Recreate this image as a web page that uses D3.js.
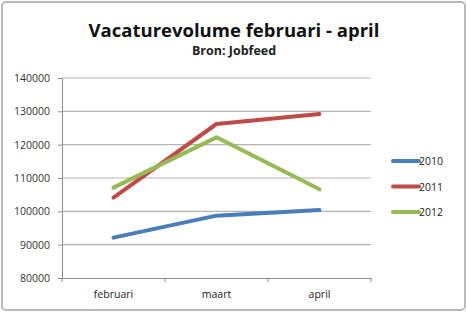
<!DOCTYPE html>
<html>
<head>
<meta charset="utf-8">
<script src="https://cdn.jsdelivr.net/npm/d3@7"></script>
<style>
  body { margin: 0; background: #fff; }
  text { font-family: "Open Sans", "Noto Sans", sans-serif; }
</style>
</head>
<body>
<div id="chart"></div>
<script>
// data
var months = ["februari", "maart", "april"];
var years = ["2010", "2011", "2012"];
var values2010 = [92100, 98700, 100400];
var values2011 = [104100, 126200, 129200];
var values2012 = [107100, 122200, 106600];
var yTicks = [80000, 90000, 100000, 110000, 120000, 130000, 140000];
var colors = ["#4a7ebb", "#be4b48", "#98b954"];

var svgWidth = 467;
var svgHeight = 312;
var margin = { top: 78, right: 96, bottom: 34, left: 62 };
var width = svgWidth - margin.left - margin.right;
var height = svgHeight - margin.top - margin.bottom;

var series = [values2010, values2011, values2012].map(function(vals, i) {
  return { name: years[i], color: colors[i], values: vals };
});

var svg = d3.select("#chart").append("svg")
  .attr("width", svgWidth)
  .attr("height", svgHeight);

// frame
svg.append("rect")
  .attr("x", 2).attr("y", 2)
  .attr("width", svgWidth - 4).attr("height", svgHeight - 4)
  .attr("rx", 4)
  .attr("fill", "#fff")
  .attr("stroke", "#b8b8b8")
  .attr("stroke-width", 2);

// titles
svg.append("text")
  .attr("x", 234).attr("y", 37)
  .attr("text-anchor", "middle")
  .attr("font-size", "18.5px")
  .attr("font-weight", "bold")
  .attr("fill", "#111")
  .text("Vacaturevolume februari - april");

svg.append("text")
  .attr("x", 234).attr("y", 55)
  .attr("text-anchor", "middle")
  .attr("font-size", "12.5px")
  .attr("font-weight", "bold")
  .attr("fill", "#222")
  .text("Bron: Jobfeed");

var chartGroup = svg.append("g")
  .attr("transform", `translate(${margin.left}, ${margin.top})`);

var xScale = d3.scaleBand().domain(months).range([0, width]);
var yScale = d3.scaleLinear().domain([80000, 140000]).range([height, 0]);

// gridlines
chartGroup.selectAll(".grid")
  .data(yTicks.slice(1))
  .enter().append("line")
  .attr("x1", 0).attr("x2", width)
  .attr("y1", d => yScale(d)).attr("y2", d => yScale(d))
  .attr("stroke", "#b3b3b3")
  .attr("stroke-width", 1.2);

// y axis
var leftAxis = d3.axisLeft(yScale).tickValues(yTicks).tickFormat(d3.format("d"))
  .tickSize(4).tickPadding(8);
var yAxis = chartGroup.append("g").call(leftAxis);
yAxis.select(".domain").attr("stroke", "#8c8c8c");
yAxis.selectAll(".tick line").attr("stroke", "#8c8c8c");
yAxis.selectAll("text").attr("font-size", "10.5px").attr("fill", "#333")
  .style("font-family", "'Open Sans', sans-serif");

// x axis with ticks at band boundaries
var bottomAxis = d3.axisBottom(xScale).tickSize(0).tickPadding(13);
var xAxis = chartGroup.append("g")
  .attr("transform", `translate(0, ${height})`)
  .call(bottomAxis);
xAxis.select(".domain").attr("stroke", "#8c8c8c");
xAxis.selectAll("text").attr("font-size", "10.5px").attr("fill", "#222")
  .style("font-family", "'Open Sans', sans-serif");
chartGroup.selectAll(".xtick")
  .data(d3.range(months.length + 1))
  .enter().append("line")
  .attr("x1", i => i * xScale.step()).attr("x2", i => i * xScale.step())
  .attr("y1", height).attr("y2", height + 4)
  .attr("stroke", "#8c8c8c");

// lines
var line = d3.line()
  .x((d, i) => xScale(months[i]) + xScale.bandwidth() / 2)
  .y(d => yScale(d));

chartGroup.selectAll(".series")
  .data(series)
  .enter().append("path")
  .attr("d", d => line(d.values))
  .attr("fill", "none")
  .attr("stroke", d => d.color)
  .attr("stroke-width", 4)
  .attr("stroke-linejoin", "round")
  .attr("stroke-linecap", "round");

// legend
var legend = svg.selectAll(".legend")
  .data(series)
  .enter().append("g")
  .attr("transform", (d, i) => `translate(393, ${161 + i * 25.5})`);

legend.append("line")
  .attr("x1", 0).attr("x2", 26)
  .attr("stroke", d => d.color)
  .attr("stroke-width", 4)
  .attr("stroke-linecap", "round");

legend.append("text")
  .attr("x", 26).attr("y", 4)
  .attr("font-size", "10.5px")
  .attr("fill", "#222")
  .text(d => d.name);
</script>
</body>
</html>
